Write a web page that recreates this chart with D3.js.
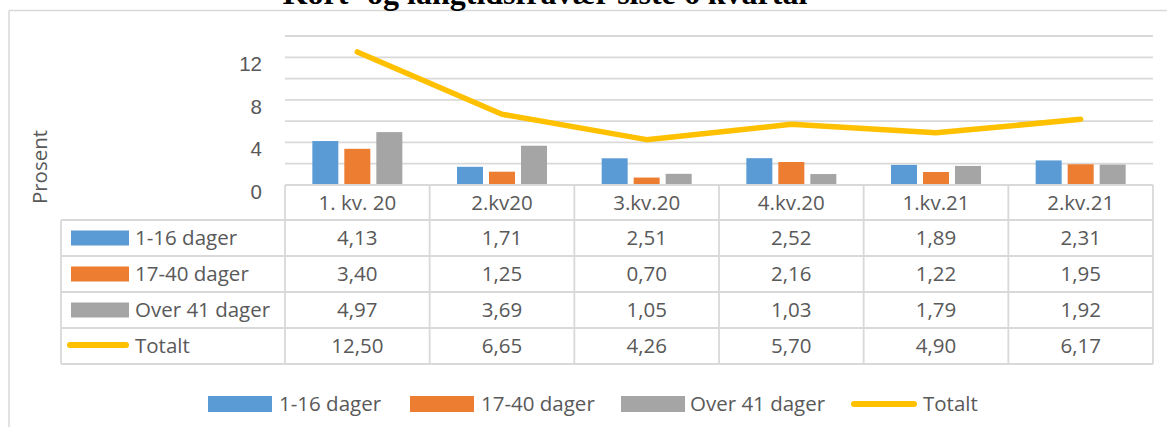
<!DOCTYPE html>
<html>
<head>
<meta charset="utf-8">
<script src="https://cdn.jsdelivr.net/npm/d3@7"></script>
<style>
    body { margin: 0; background: #fff; }
    svg { display: block; font-family: 'Open Sans', 'Liberation Sans', sans-serif; }
</style>
</head>
<body>
<svg id="chart" width="1167" height="427"></svg>
<script>
    // data
    const categories = ["1. kv. 20", "2.kv20", "3.kv.20", "4.kv.20", "1.kv.21", "2.kv.21"];
    const seriesNames = ["1-16 dager", "17-40 dager", "Over 41 dager"];
    const shortTerm = [4.13, 1.71, 2.51, 2.52, 1.89, 2.31];
    const midTerm = [3.40, 1.25, 0.70, 2.16, 1.22, 1.95];
    const longTerm = [4.97, 3.69, 1.05, 1.03, 1.79, 1.92];
    const total = [12.50, 6.65, 4.26, 5.70, 4.90, 6.17];
    const yTicks = [0, 4, 8, 12];
    const lineName = "Totalt";
    const title = "Kort- og langtidsfravær siste 6 kvartal";
    const yTitle = "Prosent";

    const barColors = ["#5B9BD5", "#ED7D31", "#A5A5A5"];
    const lineColor = "#FFC000";
    const gridColor = "#d9d9d9";
    const textColor = "#595959";
    const fontSize = 20.5;

    const barSeries = [shortTerm, midTerm, longTerm];
    const svg = d3.select("#chart");

    const x = d3.scaleBand().domain(categories).range([285, 1153]).padding(0);
    const xInner = d3.scaleBand().domain(seriesNames).range([-45, 45]).paddingInner(6 / 32).paddingOuter(0);
    const y = d3.scaleLinear().domain([0, 14]).range([185, 36]);

    // outer chart frame
    svg.append("line").attr("x1", 9).attr("x2", 1167).attr("y1", 10.5).attr("y2", 10.5)
        .attr("stroke", gridColor).attr("stroke-width", 1.5);
    svg.append("line").attr("x1", 9).attr("x2", 9).attr("y1", 10.5).attr("y2", 427)
        .attr("stroke", gridColor).attr("stroke-width", 1.5);

    // title (mostly clipped at the top, as in the source)
    svg.append("text").attr("x", 545).attr("y", 4)
        .attr("text-anchor", "middle")
        .style("font-family", "'Liberation Serif', 'DejaVu Serif', serif")
        .style("font-weight", "bold").style("font-size", "32px")
        .text(title);

    // gridlines
    svg.append("g").selectAll("line").data(d3.range(2, 15, 2)).join("line")
        .attr("x1", 285).attr("x2", 1153)
        .attr("y1", d => y(d)).attr("y2", d => y(d))
        .attr("stroke", gridColor).attr("stroke-width", 1.8);

    // y axis labels
    const yAxis = svg.append("g").attr("transform", "translate(262,0)")
        .call(d3.axisLeft(y).tickValues(yTicks).tickSize(0).tickPadding(0));
    yAxis.select(".domain").remove();
    yAxis.selectAll("text").attr("dy", "0.9em").attr("y", -5)
        .attr("fill", textColor).style("font-size", fontSize + "px").style("font-family", null);

    svg.append("text")
        .attr("transform", "translate(47,167) rotate(-90)")
        .attr("text-anchor", "middle").attr("fill", textColor)
        .style("font-size", fontSize + "px").text(yTitle);

    // bars
    const bars = svg.append("g");
    barSeries.forEach((vals, si) => {
        bars.append("g").attr("fill", barColors[si]).selectAll("rect").data(vals).join("rect")
            .attr("x", (d, i) => x(categories[i]) + x.bandwidth() / 2 + xInner(seriesNames[si]))
            .attr("width", xInner.bandwidth())
            .attr("y", d => y(d))
            .attr("height", d => y(0) - y(d));
    });

    // total line
    const line = d3.line()
        .x((d, i) => x(categories[i]) + x.bandwidth() / 2)
        .y(d => y(d));
    svg.append("path").datum(total)
        .attr("d", line).attr("fill", "none")
        .attr("stroke", lineColor).attr("stroke-width", 5.5)
        .attr("stroke-linejoin", "round").attr("stroke-linecap", "round");

    // data table
    const rowTops = [185, 220, 256, 292, 328, 364];
    const table = svg.append("g").attr("stroke", gridColor).attr("stroke-width", 1.8);
    rowTops.forEach((ry, i) => {
        table.append("line").attr("x1", i === 0 ? 285 : 61).attr("x2", 1153)
            .attr("y1", ry).attr("y2", ry);
    });
    const colEdges = categories.map(c => x(c)).concat([x.range()[1]]);
    table.selectAll("line.col").data(colEdges).join("line").attr("class", "col")
        .attr("x1", d => d).attr("x2", d => d).attr("y1", 185).attr("y2", 364);
    table.append("line").attr("x1", 61).attr("x2", 61).attr("y1", 220).attr("y2", 364);

    const rowMid = i => (rowTops[i] + rowTops[i + 1]) / 2;
    const cellText = svg.append("g").attr("fill", textColor)
        .style("font-size", fontSize + "px").attr("text-anchor", "middle");
    const fmt = v => d3.format(".2f")(v).replace(".", ",");

    cellText.selectAll("text.head").data(categories).join("text").attr("class", "head")
        .attr("x", d => x(d) + x.bandwidth() / 2).attr("y", rowMid(0)).attr("dy", "0.36em")
        .text(d => d);
    [shortTerm, midTerm, longTerm, total].forEach((vals, r) => {
        cellText.append("g").selectAll("text").data(vals).join("text")
            .attr("x", (d, i) => x(categories[i]) + x.bandwidth() / 2)
            .attr("y", rowMid(r + 1)).attr("dy", "0.36em")
            .text(fmt);
    });

    // row legend keys
    const rowNames = seriesNames.concat([lineName]);
    rowNames.forEach((name, r) => {
        const cy = rowMid(r + 1);
        if (r < 3) {
            svg.append("rect").attr("x", 71).attr("y", cy - 7.5).attr("width", 58).attr("height", 15)
                .attr("fill", barColors[r]);
        } else {
            svg.append("line").attr("x1", 70).attr("x2", 126).attr("y1", cy - 1).attr("y2", cy - 1)
                .attr("stroke", lineColor).attr("stroke-width", 6).attr("stroke-linecap", "round");
        }
        svg.append("text").attr("x", 135).attr("y", cy).attr("dy", "0.36em")
            .attr("fill", textColor).style("font-size", fontSize + "px").text(name);
    });

    // bottom legend
    const legendX = [208, 410, 621, 852];
    const legendY = 404;
    rowNames.forEach((name, i) => {
        const g = svg.append("g").attr("transform", `translate(${legendX[i]},${legendY})`);
        if (i < 3) {
            g.append("rect").attr("x", 0).attr("y", -8).attr("width", 64).attr("height", 16)
                .attr("fill", barColors[i]);
        } else {
            g.append("line").attr("x1", 2).attr("x2", 62).attr("y1", 0).attr("y2", 0)
                .attr("stroke", lineColor).attr("stroke-width", 6).attr("stroke-linecap", "round");
        }
        g.append("text").attr("x", i === 2 ? 69 : 71).attr("y", 0).attr("dy", "0.36em")
            .attr("fill", textColor).style("font-size", fontSize + "px").text(name);
    });
</script>
</body>
</html>
